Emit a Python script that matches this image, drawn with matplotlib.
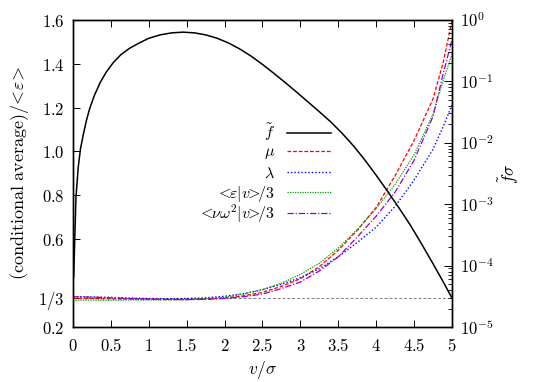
import matplotlib
matplotlib.use("Agg")
import matplotlib.pyplot as plt
from matplotlib.ticker import FixedLocator, FixedFormatter, LogLocator, NullFormatter

plt.rcParams["mathtext.fontset"] = "cm"
plt.rcParams["font.size"] = 10.5

# speed distribution f~ sigma (right, log axis), log10 values
f_v = [0.01, 0.04, 0.07, 0.1, 0.14, 0.18, 0.22, 0.28, 0.36, 0.44, 0.53, 0.63, 0.75,
       0.87, 1.0, 1.15, 1.3, 1.45, 1.6, 1.75, 1.9, 2.05, 2.2, 2.35, 2.5, 2.65, 2.8,
       2.95, 3.1, 3.25, 3.4, 3.55, 3.7, 3.85, 4.0, 4.15, 4.3, 4.45, 4.6, 4.75, 4.9, 5.0]
f_log = [-4.19, -2.90, -2.40, -2.10, -1.85, -1.63, -1.45, -1.24, -1.02, -0.85, -0.70,
         -0.57, -0.46, -0.38, -0.30, -0.245, -0.212, -0.20, -0.211, -0.244, -0.298, -0.375,
         -0.473, -0.59, -0.725, -0.87, -1.02, -1.175, -1.335, -1.495, -1.66, -1.845, -2.05,
         -2.28, -2.53, -2.79, -3.06, -3.34, -3.65, -3.97, -4.30, -4.53]
f_val = [10 ** l for l in f_log]

# conditional averages (left axis)
v = [0, 0.25, 0.5, 0.75, 1.0, 1.25, 1.5, 1.75, 2.0, 2.25, 2.5, 2.75, 3.0, 3.25,
     3.5, 3.75, 4.0, 4.25, 4.5, 4.75, 4.88, 5.0]
mu = [0.330, 0.330, 0.328, 0.327, 0.326, 0.325, 0.325, 0.327, 0.332, 0.342, 0.358,
      0.385, 0.420, 0.475, 0.550, 0.640, 0.745, 0.890, 1.050, 1.240, 1.400, 1.595]
lam = [0.338, 0.337, 0.335, 0.332, 0.330, 0.329, 0.330, 0.333, 0.340, 0.352, 0.370,
       0.395, 0.425, 0.465, 0.520, 0.585, 0.655, 0.750, 0.870, 1.010, 1.110, 1.212]
eps = [0.322, 0.322, 0.322, 0.323, 0.323, 0.324, 0.325, 0.328, 0.336, 0.350, 0.370,
       0.400, 0.440, 0.490, 0.560, 0.645, 0.740, 0.850, 0.985, 1.170, 1.319, 1.443]
nuw = [0.338, 0.336, 0.333, 0.330, 0.328, 0.326, 0.325, 0.326, 0.330, 0.338, 0.350,
       0.375, 0.405, 0.455, 0.520, 0.610, 0.705, 0.815, 0.960, 1.160, 1.349, 1.509]

xticks = [0, 0.5, 1, 1.5, 2, 2.5, 3, 3.5, 4, 4.5, 5]
xlabels = ["0", "0.5", "1", "1.5", "2", "2.5", "3", "3.5", "4", "4.5", "5"]
yticks = [0.2, 1 / 3, 0.6, 0.8, 1.0, 1.2, 1.4, 1.6]
ylabels = ["0.2", "1/3", "0.6", "0.8", "1.0", "1.2", "1.4", "1.6"]
rticks = [1e-5, 1e-4, 1e-3, 1e-2, 1e-1, 1e0]
rlabels = ["10^{-5}", "10^{-4}", "10^{-3}", "10^{-2}", "10^{-1}", "10^{0}"]

fig = plt.figure(figsize=(5.4, 3.82), dpi=100)
ax = fig.add_axes([0.135, 0.144, 0.702, 0.804])
ax2 = ax.twinx()

ax.axhline(1 / 3, color="gray", ls=(0, (3, 2)), lw=0.7)
l_mu, = ax.plot(v, mu, color="#ff0000", ls=(0, (3, 1.5)), lw=0.9, label=r"$\mu$")
l_lam, = ax.plot(v, lam, color="#0000ff", ls=(0, (1, 1.5)), lw=1.0, label=r"$\lambda$")
l_eps, = ax.plot(v, eps, color="#009e00", ls=(0, (1, 1)), lw=0.9,
                 label=r"$<\!\!\varepsilon|v\!\!>\!\!/3$")
l_nuw, = ax.plot(v, nuw, color="#9400d3", ls=(0, (5, 1.5, 1, 1.5)), lw=0.9,
                 label=r"$<\!\!\nu\omega^2|v\!\!>\!\!/3$")
l_f, = ax2.plot(f_v, f_val, color="black", lw=1.1, label=r"$\tilde{f}$")

ax.set_xlim(0, 5)
ax.set_ylim(0.2, 1.6)
ax2.set_yscale("log")
ax2.set_ylim(1e-5, 1e0)

ax.xaxis.set_major_locator(FixedLocator(xticks))
ax.xaxis.set_major_formatter(FixedFormatter(["$%s$" % s for s in xlabels]))
ax.yaxis.set_major_locator(FixedLocator(yticks))
ax.yaxis.set_major_formatter(FixedFormatter(["$%s$" % s for s in ylabels]))
ax2.yaxis.set_major_locator(FixedLocator(rticks))
ax2.yaxis.set_major_formatter(FixedFormatter(["$%s$" % s for s in rlabels]))
ax2.yaxis.set_minor_locator(LogLocator(base=10, subs=range(2, 10)))
ax2.yaxis.set_minor_formatter(NullFormatter())

ax.tick_params(axis="x", direction="in", top=True, length=5, width=0.7, labelsize=12, pad=7)
ax.tick_params(axis="y", direction="in", right=False, length=5, width=0.7, labelsize=12, pad=6)
ax2.tick_params(axis="y", which="major", direction="in", length=6, width=0.7, labelsize=12, pad=6)
ax2.tick_params(axis="y", which="minor", direction="in", length=3, width=0.6)
for a in (ax, ax2):
    for s in a.spines.values():
        s.set_linewidth(1.0)

ax.set_xlabel(r"$v/\sigma$", fontsize=12.5, labelpad=3)
ax.set_ylabel(r"$\mathrm{(conditional\ average)}/\!<\!\varepsilon\!>$", fontsize=13, labelpad=5)
ax2.set_ylabel(r"$\tilde{f}\sigma$", fontsize=12.5, labelpad=2)

# gnuplot-style key: one row per entry, evenly spaced, labels right-aligned
handles = [l_f, l_mu, l_lam, l_eps, l_nuw]
key_top, key_step = 0.633, 0.0664
for i, h in enumerate(handles):
    lg = ax2.legend(handles=[h], loc="center right", bbox_to_anchor=(0.681, key_top - i * key_step),
                    frameon=False, markerfirst=False, fontsize=11.5, handlelength=2.75,
                    handletextpad=0.75, borderpad=0, borderaxespad=0)
    if i < len(handles) - 1:
        ax2.add_artist(lg)

fig.savefig("out.png", dpi=100)
